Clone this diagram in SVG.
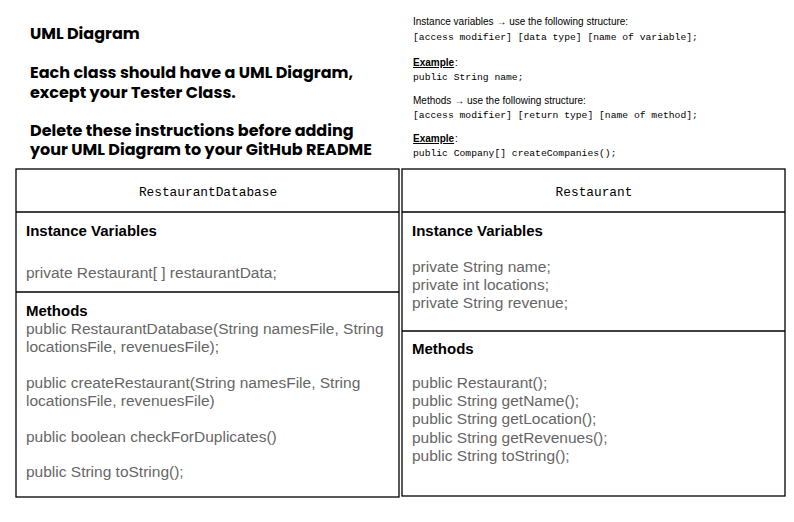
<svg xmlns="http://www.w3.org/2000/svg" width="794" height="522" viewBox="0 0 794 522">
<style>
.h{font-family:Poppins,"Inter","Liberation Sans",sans-serif;font-weight:700;font-size:16px;fill:#000}
.s{font-family:"Liberation Sans",Arial,sans-serif;font-size:10px;fill:#000}
.m{font-family:"Liberation Mono",monospace;font-size:9.7px;fill:#000}
.ex{font-family:"Liberation Sans",Arial,sans-serif;font-size:10px;font-weight:700;fill:#000;text-decoration:underline}
.t{font-family:"Liberation Mono",monospace;font-size:12.8px;fill:#000;text-anchor:middle}
.b{font-family:"Liberation Sans",Arial,sans-serif;font-size:15px;font-weight:700;fill:#000}
.g{font-family:"Liberation Sans",Arial,sans-serif;font-size:15.5px;fill:#666}
.box{fill:#fff;stroke:#000;stroke-width:1.3}
.ln{stroke:#000;stroke-width:1.3}
</style>
<rect width="794" height="522" fill="#fff"/>
<g id="instructions">
<text class="h" x="30" y="39">UML Diagram</text>
<text class="h" x="30" y="78">Each class should have a UML Diagram,</text>
<text class="h" x="30" y="98">except your Tester Class.</text>
<text class="h" x="30" y="136">Delete these instructions before adding</text>
<text class="h" x="30" y="155">your UML Diagram to your GitHub README</text>
</g>
<g id="structure-notes">
<text class="s" x="413" y="25">Instance variables → use the following structure:</text>
<text class="m" x="413" y="40">[access modifier] [data type] [name of variable];</text>
<text class="ex" x="413" y="66">Example</text><text class="s" x="455" y="66">:</text>
<text class="m" x="413" y="80">public String name;</text>
<text class="s" x="413" y="104">Methods → use the following structure:</text>
<text class="m" x="413" y="118">[access modifier] [return type] [name of method];</text>
<text class="ex" x="413" y="142">Example</text><text class="s" x="455" y="142">:</text>
<text class="m" x="413" y="156">public Company[] createCompanies();</text>
</g>
<g id="RestaurantDatabase">
<rect class="box" x="16" y="169" width="383" height="328"/>
<line class="ln" x1="16" y1="212" x2="399" y2="212"/>
<line class="ln" x1="16" y1="292" x2="399" y2="292"/>
<text class="t" x="208" y="196">RestaurantDatabase</text>
<text class="b" x="26" y="236">Instance Variables</text>
<text class="g" x="26" y="278">private Restaurant[ ] restaurantData;</text>
<text class="b" x="26" y="316">Methods</text>
<text class="g" x="26" y="334">public RestaurantDatabase(String namesFile, String</text>
<text class="g" x="26" y="352">locationsFile, revenuesFile);</text>
<text class="g" x="26" y="388">public createRestaurant(String namesFile, String</text>
<text class="g" x="26" y="406">locationsFile, revenuesFile)</text>
<text class="g" x="26" y="442">public boolean checkForDuplicates()</text>
<text class="g" x="26" y="477">public String toString();</text>
</g>
<g id="Restaurant">
<rect class="box" x="402" y="169" width="383" height="327"/>
<line class="ln" x1="402" y1="212" x2="785" y2="212"/>
<line class="ln" x1="402" y1="331" x2="785" y2="331"/>
<text class="t" x="594" y="196">Restaurant</text>
<text class="b" x="412" y="236">Instance Variables</text>
<text class="g" x="412" y="272">private String name;</text>
<text class="g" x="412" y="290">private int locations;</text>
<text class="g" x="412" y="308">private String revenue;</text>
<text class="b" x="412" y="354">Methods</text>
<text class="g" x="412" y="388">public Restaurant();</text>
<text class="g" x="412" y="406">public String getName();</text>
<text class="g" x="412" y="424">public String getLocation();</text>
<text class="g" x="412" y="443">public String getRevenues();</text>
<text class="g" x="412" y="461">public String toString();</text>
</g>
<g id="connectors"></g>
</svg>
